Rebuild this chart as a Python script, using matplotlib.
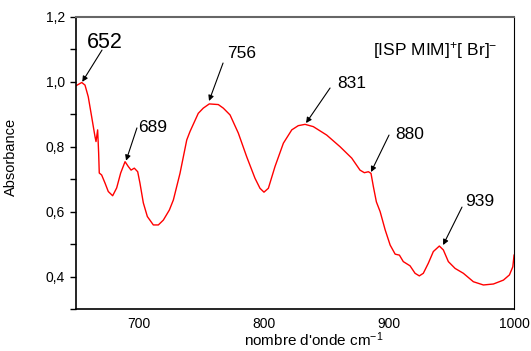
import matplotlib
matplotlib.use('Agg')
import matplotlib.pyplot as plt
from matplotlib.ticker import FuncFormatter, MultipleLocator

plt.rcParams['font.family'] = ['Liberation Sans', 'DejaVu Sans']
plt.rcParams['mathtext.fontset'] = 'custom'
plt.rcParams['mathtext.rm'] = 'Liberation Sans'
plt.rcParams['mathtext.it'] = 'Liberation Sans'

# spectre
wavenumber = [650, 654.6, 657.2, 659.8, 662.5, 665.2, 666.0, 667.3, 668.1, 668.6, 670.5, 673.2,
              675.8, 679.3, 682.5, 685.7, 689.2, 691.8, 694.0, 696.6, 699.3, 701.1, 703.8, 707.0,
              711.8, 715.8, 719.8, 724.6, 727.8, 733.1, 738.5, 741.1, 747.7, 751.7, 756.5, 763.7,
              767.7, 773.1, 779.7, 786.4, 793.0, 797.0, 800.2, 803.7, 809.0, 815.7, 822.4, 827.6,
              833.0, 839.6, 850.3, 861.0, 870.3, 876.9, 880.4, 883.6, 885.7, 887.6, 890.0, 893.0,
              897.0, 901.0, 905.0, 908.4, 911.5, 916.9, 920.9, 924.3, 927.5, 931.5, 935.5, 940.3,
              943.5, 947.5, 952.9, 959.5, 967.5, 975.5, 983.5, 991.5, 996.3, 999.0, 1000]
absorbance = [0.988, 0.998, 0.990, 0.954, 0.893, 0.831, 0.816, 0.852, 0.781, 0.719, 0.713, 0.688,
              0.662, 0.649, 0.673, 0.719, 0.754, 0.739, 0.728, 0.734, 0.723, 0.688, 0.627, 0.585,
              0.559, 0.559, 0.574, 0.605, 0.636, 0.718, 0.821, 0.847, 0.903, 0.919, 0.932, 0.930,
              0.919, 0.898, 0.842, 0.769, 0.703, 0.672, 0.660, 0.672, 0.739, 0.811, 0.852, 0.865,
              0.869, 0.862, 0.836, 0.800, 0.765, 0.728, 0.720, 0.723, 0.718, 0.677, 0.630, 0.600,
              0.544, 0.497, 0.469, 0.466, 0.446, 0.433, 0.410, 0.402, 0.410, 0.441, 0.477, 0.494,
              0.482, 0.446, 0.425, 0.410, 0.384, 0.374, 0.377, 0.389, 0.405, 0.430, 0.466]

peak_labels = ['652', '756', '689', '831', '880', '939']
arrow_head = [(655, 1.0), (756.3, 0.941), (690, 0.757), (833.8, 0.873), (885.7, 0.722), (943.3, 0.497)]
arrow_tail = [(670.8, 1.098), (767.5, 1.058), (698.7, 0.858), (853, 0.981), (900.1, 0.836), (958.4, 0.614)]
text_pos = [(658.8, 1.105), (770.7, 1.074), (699.5, 0.846), (858.6, 0.981), (904.9, 0.824), (960.8, 0.618)]
text_size = [15.5, 12.5, 12.5, 12.5, 12.5, 12.5]

fig = plt.figure(figsize=(5.31, 3.51), dpi=100)
ax = fig.add_axes([0.1431, 0.1197, 0.825, 0.832])

ax.plot(wavenumber, absorbance, color='red', lw=1.0, solid_joinstyle='round')

for lab, h, t, p, s in zip(peak_labels, arrow_head, arrow_tail, text_pos, text_size):
    ax.annotate('', xy=h, xytext=t,
                arrowprops=dict(arrowstyle='-|>', color='black', lw=0.8,
                                mutation_scale=8, shrinkA=0, shrinkB=0))
    ax.text(p[0], p[1], lab, fontsize=s, ha='left', va='baseline')

ax.text(887.3, 1.083, r'[ISP MIM]$^{\mathrm{+}}$[ Br]$^{\mathrm{-}}$', fontsize=12.5,
        ha='left', va='baseline')

ax.set_xlim(650, 1000)
ax.set_ylim(0.3, 1.2)
ax.set_xticks([700, 800, 900, 1000])
ax.yaxis.set_minor_locator(MultipleLocator(0.1))
ax.set_yticks([0.4, 0.6, 0.8, 1.0, 1.2])
ax.yaxis.set_major_formatter(FuncFormatter(lambda v, p: ('%.1f' % v).replace('.', ',')))
ax.tick_params(axis='y', direction='out', length=4, width=1, labelsize=10, pad=4)
ax.tick_params(axis='y', which='minor', direction='out', length=4, width=1)
ax.tick_params(axis='x', length=0, labelsize=10, pad=6)

ax.spines['top'].set_color('#666666')
ax.spines['top'].set_linewidth(1.5)
for s in ['left', 'bottom']:
    ax.spines[s].set_linewidth(1.2)

ax.set_xlabel("nombre d'onde cm$^{\\mathrm{-1}}$", fontsize=11)
ax.xaxis.set_label_coords(0.543, -0.075)
ax.set_ylabel('Absorbance', fontsize=10.5)
ax.yaxis.set_label_coords(-0.132, 0.52)

fig.savefig('out.png', dpi=100)
